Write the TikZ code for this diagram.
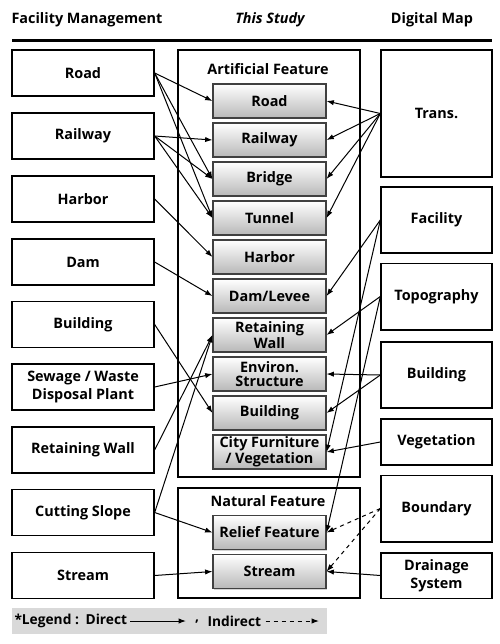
\documentclass[tikz,border=0pt]{standalone}
\usepackage{fontspec}
\setmainfont{Open Sans}
\usetikzlibrary{arrows.meta,shadows}

\tikzset{every picture/.style={line width=0.75pt}}
\tikzset{
  fmbox/.style={draw, line width=1pt, minimum width=106.5pt, minimum height=34.5pt,
    font=\bfseries\fontsize{10.8}{14}\selectfont, align=center, inner sep=0pt},
  featbox/.style={draw=black!75, line width=0.8pt, top color=white, bottom color=black!28,
    minimum width=84.75pt, minimum height=25.5pt, font=\bfseries\fontsize{10.8}{10.5}\selectfont,
    align=center, inner sep=0pt,
    drop shadow={shadow xshift=0.8pt, shadow yshift=-0.8pt, opacity=0.35}},
  dmbox/.style={draw, line width=1pt, minimum width=83.25pt,
    font=\bfseries\fontsize{10.8}{13.5}\selectfont, align=center, inner sep=0pt},
  groupframe/.style={draw, line width=1.5pt},
  direct/.style={-{Latex[length=5.5pt,width=4pt]}, line width=0.75pt},
  indirect/.style={direct, dashed},
}

\begin{document}
\begin{tikzpicture}[x=0.75pt,y=0.75pt,yscale=-1,xscale=1]
\useasboundingbox (0,0) rectangle (500,644);

% headings
\node [font=\bfseries\fontsize{10.8}{13}\selectfont] (hdFM) at (87,20) {Facility Management};
\node [font=\bfseries\itshape\fontsize{10.8}{13}\selectfont] (hdTS) at (270,20) {This Study};
\node [font=\bfseries\fontsize{10.8}{13}\selectfont] (hdDM) at (432,20) {Digital Map};
\draw [line width=2.25pt] (12,40) -- (492,40) ;

% facility management
\node [fmbox] (fmRoad) at (83,73) {Road};
\node [fmbox] (fmRail) at (83,136) {Railway};
\node [fmbox] (fmHarbor) at (83,199) {Harbor};
\node [fmbox] (fmDam) at (83,262) {Dam};
\node [fmbox] (fmBuild) at (83,324.5) {Building};
\node [fmbox] (fmSewage) at (83,387) {Sewage / Waste\\Disposal Plant};
\node [fmbox] (fmRetain) at (83,450) {Retaining Wall};
\node [fmbox] (fmCut) at (83,512.5) {Cutting Slope};
\node [fmbox] (fmStream) at (83,575.5) {Stream};

% this study
\draw [groupframe] (178,50) rectangle (360,477) ;
\draw [groupframe] (178,488) rectangle (360,598) ;
\node [font=\bfseries\fontsize{10.8}{13}\selectfont] (lbArt) at (268,69) {Artificial Feature};
\node [font=\bfseries\fontsize{10.8}{13}\selectfont] (lbNat) at (268,501) {Natural Feature};

\node [featbox] (tsRoad) at (269.5,101) {Road};
\node [featbox] (tsRail) at (269.5,140) {Railway};
\node [featbox] (tsBridge) at (269.5,179) {Bridge};
\node [featbox] (tsTunnel) at (269.5,218) {Tunnel};
\node [featbox] (tsHarbor) at (269.5,257) {Harbor};
\node [featbox] (tsDam) at (269.5,296) {Dam/Levee};
\node [featbox] (tsRetain) at (269.5,335) {Retaining\\Wall};
\node [featbox] (tsEnv) at (269.5,374) {Environ.\\Structure};
\node [featbox] (tsBuild) at (269.5,413) {Building};
\node [featbox] (tsCity) at (269.5,452) {City Furniture\\/ Vegetation};
\node [featbox] (tsRelief) at (269.5,532.5) {Relief Feature};
\node [featbox] (tsStream) at (269.5,571.5) {Stream};

% digital map
\node [dmbox, minimum height=95.25pt] (dmTrans) at (436.5,113.5) {Trans.};
\node [dmbox, minimum height=49.5pt] (dmFacil) at (436.5,220) {Facility};
\node [dmbox, minimum height=50pt] (dmTopo) at (436.5,296.5) {Topography};
\node [dmbox, minimum height=49.5pt] (dmBuild) at (436.5,375) {Building};
\node [dmbox, minimum height=34.5pt] (dmVeg) at (436.5,442) {Vegetation};
\node [dmbox, minimum height=50pt] (dmBound) at (436.5,508.5) {Boundary};
\node [dmbox, minimum height=34pt] (dmDrain) at (436.5,575.5) {Drainage\\System};

% facility management -> this study
\draw [direct] (fmRoad.east) -- (tsRoad.west) ;
\draw [direct] (fmRoad.east) -- (tsBridge.west) ;
\draw [direct] (fmRoad.east) -- (tsTunnel.west) ;
\draw [direct] (fmRail.east) -- (tsRail.west) ;
\draw [direct] (fmRail.east) -- (tsBridge.west) ;
\draw [direct] (fmRail.east) -- (tsTunnel.west) ;
\draw [direct] (fmHarbor.east) -- (tsHarbor.west) ;
\draw [direct] (fmDam.east) -- (tsDam.west) ;
\draw [direct] (fmBuild.east) -- (tsBuild.west) ;
\draw [direct] (fmSewage.east) -- (tsEnv.west) ;
\draw [direct] (fmRetain.east) -- (tsRetain.west) ;
\draw [direct] (fmCut.east) -- (tsRetain.west) ;
\draw [direct] (fmCut.east) -- (tsRelief.west) ;
\draw [direct] (fmStream.east) -- (tsStream.west) ;

% digital map -> this study
\draw [direct] (dmTrans.west) -- (tsRoad.east) ;
\draw [direct] (dmTrans.west) -- (tsRail.east) ;
\draw [direct] (dmTrans.west) -- (tsBridge.east) ;
\draw [direct] (dmTrans.west) -- (tsTunnel.east) ;
\draw [direct] (dmFacil.west) -- (tsDam.east) ;
\draw [direct] (dmFacil.west) -- (tsCity.east) ;
\draw [direct] (dmTopo.west) -- (tsRetain.east) ;
\draw [direct] (dmTopo.west) -- (tsRelief.east) ;
\draw [direct] (dmBuild.west) -- (tsEnv.east) ;
\draw [direct] (dmBuild.west) -- (tsBuild.east) ;
\draw [direct] (dmVeg.west) -- (tsCity.east) ;
\draw [indirect] (dmBound.west) -- (tsRelief.east) ;
\draw [indirect] (dmBound.west) -- (tsStream.east) ;
\draw [direct] (dmDrain.west) -- (tsStream.east) ;

% legend
\fill [black!15] (12,608) rectangle (327,634) ;
\node [font=\bfseries\fontsize{10.3}{12}\selectfont, anchor=west, inner sep=0pt] (lgDirect) at (14,621) {*Legend :\hspace{5pt}Direct};
\node [font=\bfseries\fontsize{10.3}{12}\selectfont, inner sep=0pt] (lgComma) at (197,622) {,};
\node [font=\bfseries\fontsize{10.3}{12}\selectfont, anchor=west, inner sep=0pt] (lgIndirect) at (207,621) {Indirect};
\coordinate (lgDirEnd) at (186,621);
\coordinate (lgIndEnd) at (319,621);
\draw [direct] ([xshift=2pt]lgDirect.east) -- (lgDirEnd) ;
\draw [indirect] ([xshift=3pt]lgIndirect.east) -- (lgIndEnd) ;

\end{tikzpicture}
\end{document}
